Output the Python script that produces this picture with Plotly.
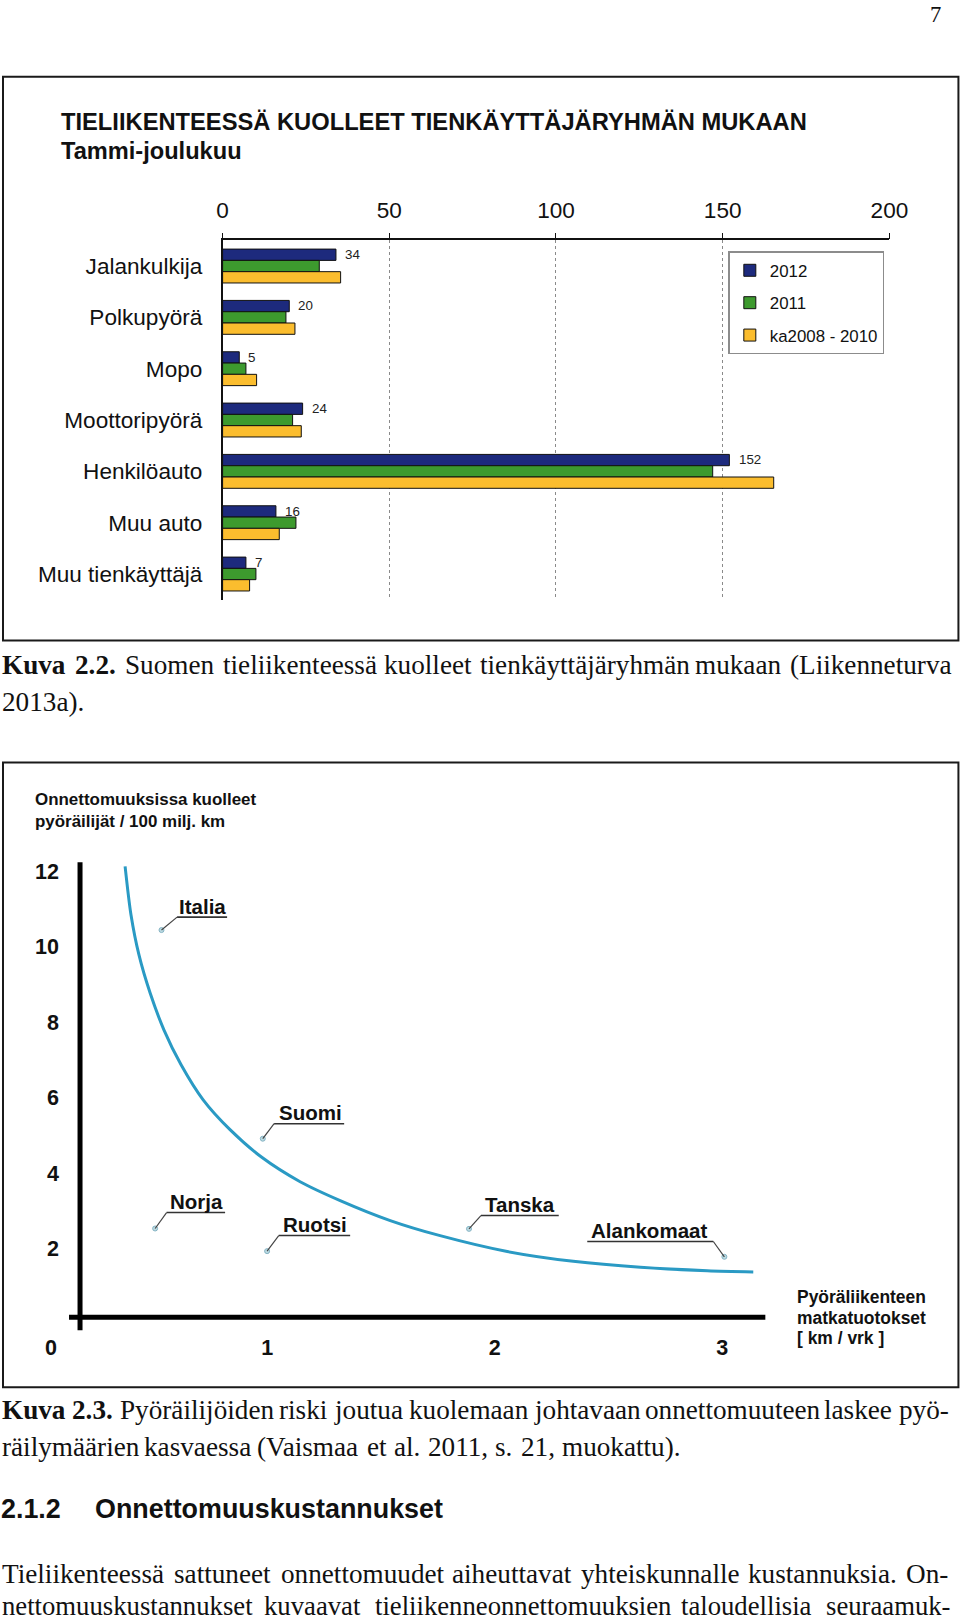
import plotly.graph_objects as go

# ---------------- data: chart 1 ----------------
categories = ["Jalankulkija", "Polkupyörä", "Mopo", "Moottoripyörä",
              "Henkilöauto", "Muu auto", "Muu tienkäyttäjä"]
v2012 = [34, 20, 5, 24, 152, 16, 7]
v2011 = [29, 19, 7, 21, 147, 22, 10]
v_avg = [35.4, 21.7, 10.2, 23.6, 165.3, 17, 8.1]
series_names = ["2012", "2011", "ka2008 - 2010"]
x_ticks1 = [0, 50, 100, 150, 200]

# ---------------- data: chart 2 ----------------
curve_x = [0.376, 0.402, 0.437, 0.486, 0.547, 0.622, 0.719, 0.837, 0.978,
           1.145, 1.321, 1.541, 1.760, 2.055, 2.345, 2.640, 2.934, 3.136]
curve_y = [12.13, 10.84, 9.78, 8.77, 7.79, 6.87, 5.94, 5.15, 4.41,
           3.77, 3.27, 2.74, 2.34, 1.92, 1.66, 1.50, 1.41, 1.38]
countries = ["Italia", "Suomi", "Norja", "Ruotsi", "Tanska", "Alankomaat"]
country_x = [0.536, 0.981, 0.508, 1.0, 1.887, 3.009]
country_y = [10.44, 4.91, 2.53, 1.93, 2.52, 1.78]
x_ticks2 = [1, 2, 3]
y_ticks2 = [2, 4, 6, 8, 10, 12]

# ---------------- page geometry helpers ----------------
WF, H = 978, 1623          # figure size
SX, OX = 0.974, 6.0        # observed horizontal photo mapping
OY = 1.2
FSC = 1.0 / SX
def X(px):
    return ((px - OX) / SX) / WF
def Y(py):
    return 1 - (py - OY) / H
def F(s):
    return s * FSC

SANS = "Liberation Sans, Arial, sans-serif"
SERIF = "Liberation Serif, Times New Roman, serif"

# chart 2 pixel mapping
X0PX, XUNIT = 39.5, 227.5
Y0PX, YUNIT = 1324.6, 37.8
def px2(x):
    return X0PX + XUNIT * x
def py2(v):
    return Y0PX - YUNIT * v

fig = go.Figure()

colors = ["#1d2a7d", "#3d9a2e", "#fbbd2e"]
for i, (name, vals) in enumerate(zip(series_names, [v2012, v2011, v_avg])):
    fig.add_trace(go.Bar(
        y=categories, x=vals, orientation="h", name=name,
        marker=dict(color=colors[i], line=dict(color="#111", width=1)),
        legendgroup="g%d" % i, xaxis="x", yaxis="y", hoverinfo="skip"))

fig.add_trace(go.Scatter(
    x=curve_x, y=curve_y, mode="lines", line=dict(color="#2a9ac4", width=3, shape="spline", smoothing=0.8),
    xaxis="x2", yaxis="y2", showlegend=False, hoverinfo="skip"))
fig.add_trace(go.Scatter(
    x=country_x, y=country_y, mode="markers",
    marker=dict(size=5, color="#bcdbe3", line=dict(color="#86b4c4", width=1)),
    xaxis="x2", yaxis="y2", showlegend=False, hoverinfo="skip"))

annotations = []
shapes = []

# page number
annotations.append(dict(x=X(935), y=Y(13), xref="paper", yref="paper", text="7",
                        showarrow=False, font=dict(family=SERIF, size=F(22), color="#111"),
                        xanchor="center", yanchor="middle"))

# frames
shapes.append(dict(type="rect", xref="paper", yref="paper", x0=X(3), x1=X(958), y0=Y(75), y1=Y(640),
                   line=dict(color="#1a1a1a", width=2)))
shapes.append(dict(type="rect", xref="paper", yref="paper", x0=X(3), x1=X(958), y0=Y(762), y1=Y(1388),
                   line=dict(color="#1a1a1a", width=2)))

# chart 1 titles
annotations.append(dict(x=X(59), y=Y(120), xref="paper", yref="paper",
                        text="<b>TIELIIKENTEESSÄ KUOLLEET TIENKÄYTTÄJÄRYHMÄN MUKAAN</b>",
                        showarrow=False, xanchor="left", yanchor="middle",
                        font=dict(family=SANS, size=F(23.1), color="#111")))
annotations.append(dict(x=X(59), y=Y(149), xref="paper", yref="paper",
                        text="<b>Tammi-joulukuu</b>",
                        showarrow=False, xanchor="left", yanchor="middle",
                        font=dict(family=SANS, size=F(23.0), color="#111")))

# value labels for 2012
for c, v in zip(categories, v2012):
    annotations.append(dict(x=v, y=c, xref="x", yref="y", text=str(v), showarrow=False,
                            xanchor="left", yanchor="middle", xshift=7 / SX, yshift=11.4,
                            font=dict(family=SANS, size=F(13), color="#222")))

# chart 2 axis lines
shapes.append(dict(type="line", xref="paper", yref="paper", x0=X(80), x1=X(80), y0=Y(862), y1=Y(1331),
                   line=dict(color="#000", width=5)))
shapes.append(dict(type="line", xref="paper", yref="paper", x0=X(69), x1=X(765), y0=Y(1318), y1=Y(1318),
                   line=dict(color="#000", width=5)))

# chart 2 titles
annotations.append(dict(x=X(33), y=Y(810.5), xref="paper", yref="paper",
                        text="<b>Onnettomuuksissa kuolleet<br>pyöräilijät / 100 milj. km</b>",
                        showarrow=False, xanchor="left", yanchor="middle", align="left",
                        font=dict(family=SANS, size=F(16.5), color="#111")))
for txt, yy in zip(["Pyöräliikenteen", "matkatuotokset", "[ km / vrk ]"], [1298, 1318.5, 1339]):
    annotations.append(dict(x=X(795), y=Y(yy), xref="paper", yref="paper", text="<b>%s</b>" % txt,
                            showarrow=False, xanchor="left", yanchor="middle",
                            font=dict(family=SANS, size=F(17), color="#111")))
annotations.append(dict(x=X(59), y=Y(1348), xref="paper", yref="paper", text="<b>0</b>",
                        showarrow=False, xanchor="right", yanchor="middle",
                        font=dict(family=SANS, size=F(21), color="#111")))

# country labels: (leader end px, leader end py, underline x0, underline x1, text center x)
label_layout = {
    "Italia": (177, 917, 177, 227, 202),
    "Suomi": (274, 1124, 274, 344, 310),
    "Norja": (166.5, 1213, 166.5, 225, 196.5),
    "Ruotsi": (278.6, 1236, 278.6, 350, 315),
    "Tanska": (480.7, 1216, 480.7, 558.5, 520),
    "Alankomaat": (713, 1242, 587, 713, 649),
}
for name, cxv, cyv in zip(countries, country_x, country_y):
    lx, ly, u0, u1, tx = label_layout[name]
    dpx, dpy = px2(cxv), py2(cyv)
    shapes.append(dict(type="line", xref="paper", yref="paper", x0=X(dpx), y0=Y(dpy), x1=X(lx), y1=Y(ly),
                       line=dict(color="#444", width=1.2)))
    shapes.append(dict(type="line", xref="paper", yref="paper", x0=X(u0), y0=Y(ly), x1=X(u1), y1=Y(ly),
                       line=dict(color="#333", width=1.6)))
    annotations.append(dict(x=X(tx), y=Y(ly - 11), xref="paper", yref="paper", text="<b>%s</b>" % name,
                            showarrow=False, xanchor="center", yanchor="middle",
                            font=dict(family=SANS, size=F(20), color="#111")))

# ---------------- text blocks ----------------
TW = {' ': 250, '(': 333, ')': 333, '.': 250, ',': 250, '-': 333,
      'A': 722, 'K': 722, 'L': 611, 'O': 722, 'P': 556, 'S': 556, 'T': 611, 'V': 722,
      'a': 444, 'b': 500, 'c': 444, 'd': 500, 'e': 444, 'f': 333, 'g': 500, 'h': 500,
      'i': 278, 'j': 278, 'k': 500, 'l': 278, 'm': 778, 'n': 500, 'o': 500, 'p': 500,
      'q': 500, 'r': 333, 's': 389, 't': 278, 'u': 500, 'v': 500, 'w': 722, 'x': 500,
      'y': 500, 'z': 444, 'ä': 444, 'ö': 500}
TWB = {'K': 778, 'u': 556, 'v': 500, 'a': 500, '.': 250}
def tw(s, bold, fs):
    tot = 0
    for ch in s:
        if ch.isdigit():
            tot += 500
        elif bold and ch in TWB:
            tot += TWB[ch]
        else:
            tot += TW.get(ch, 500)
    return tot * fs / 1000.0

FS = 26.5
def text_line(words, py, justify, left=0.0, right=945.0, fs=FS):
    widths = [tw(w, b, fs) for w, b in words]
    if justify and len(words) > 1:
        gap = (right - left - sum(widths)) / (len(words) - 1)
    else:
        gap = 250 * fs / 1000.0 + 1.5
    x = left
    for (w, b), wd in zip(words, widths):
        annotations.append(dict(x=X(x), y=Y(py), xref="paper", yref="paper",
                                text=("<b>%s</b>" % w) if b else w, showarrow=False,
                                xanchor="left", yanchor="middle",
                                font=dict(family=SERIF, size=F(fs), color="#111")))
        x += wd + gap

def words_of(s, bold_first=0):
    ws = s.split(" ")
    return [(w, i < bold_first) for i, w in enumerate(ws)]

text_line(words_of("Kuva 2.2. Suomen tieliikenteessä kuolleet tienkäyttäjäryhmän mukaan (Liikenneturva", 2), 664, True)
text_line(words_of("2013a)."), 701, False)
text_line(words_of("Kuva 2.3. Pyöräilijöiden riski joutua kuolemaan johtavaan onnettomuuteen laskee pyö-", 2), 1410.5, True)
text_line(words_of("räilymäärien kasvaessa (Vaismaa et al. 2011, s. 21, muokattu)."), 1448, False)
text_line(words_of("Tieliikenteessä sattuneet onnettomuudet aiheuttavat yhteiskunnalle kustannuksia. On-"), 1575, True)
text_line(words_of("nettomuuskustannukset kuvaavat tieliikenneonnettomuuksien taloudellisia seuraamuk-"), 1607, True, fs=26)

annotations.append(dict(x=X(-1), y=Y(1510), xref="paper", yref="paper", text="<b>2.1.2</b>",
                        showarrow=False, xanchor="left", yanchor="middle",
                        font=dict(family=SANS, size=F(26.2), color="#111")))
annotations.append(dict(x=X(93), y=Y(1510), xref="paper", yref="paper", text="<b>Onnettomuuskustannukset</b>",
                        showarrow=False, xanchor="left", yanchor="middle",
                        font=dict(family=SANS, size=F(26.2), color="#111")))

fig.update_layout(
    width=WF, height=H, autosize=False, margin=dict(l=0, r=0, t=0, b=0, pad=0),
    paper_bgcolor="white", plot_bgcolor="rgba(0,0,0,0)",
    barmode="group", bargap=0.34, bargroupgap=0,
    showlegend=True,
    legend=dict(x=X(728), y=Y(250), xanchor="left", yanchor="top",
                bordercolor="#8c8c8c", borderwidth=1.5, bgcolor="white",
                font=dict(family=SANS, size=F(16.4), color="#111"),
                traceorder="grouped", tracegroupgap=7.5, itemwidth=30),
    xaxis=dict(domain=[X(222.5), X(889)], range=[0, 200], side="top", anchor="y",
               tickvals=x_ticks1, ticks="outside", ticklen=6, tickcolor="#111", tickwidth=1.2,
               showline=True, linecolor="#111", linewidth=1.5,
               showgrid=True, gridcolor="#8a8a8a", griddash="dot", gridwidth=1, zeroline=False,
               tickfont=dict(family=SANS, size=F(22), color="#111"), ticklabelstandoff=6),
    yaxis=dict(domain=[Y(599), Y(239)], type="category", autorange="reversed", anchor="x",
               showline=True, linecolor="#111", linewidth=1.5, ticks="",
               showgrid=False, zeroline=False,
               tickfont=dict(family=SANS, size=F(22), color="#111"), ticklabelstandoff=14),
    xaxis2=dict(domain=[X(80), X(762)], range=[(80 - X0PX) / XUNIT, (762 - X0PX) / XUNIT], anchor="y2",
                tickvals=x_ticks2, ticks="", showline=False, showgrid=False, zeroline=False,
                tickfont=dict(family=SANS, size=F(21), color="#111", weight="bold"), ticklabelstandoff=15),
    yaxis2=dict(domain=[Y(1318), Y(862)], range=[(Y0PX - 1318) / YUNIT, (Y0PX - 862) / YUNIT], anchor="x2",
                tickvals=y_ticks2, ticks="", showline=False, showgrid=False, zeroline=False,
                tickfont=dict(family=SANS, size=F(21), color="#111", weight="bold"), ticklabelstandoff=20),
    annotations=annotations, shapes=shapes,
)

fig.write_html("out.html", config={"displayModeBar": False, "responsive": False},
               post_script=("document.documentElement.style.margin='0';"
                            "document.documentElement.style.overflow='hidden';"
                            "document.body.style.margin='0';"
                            "document.body.style.padding='0';"
                            "document.body.style.overflow='hidden';"))
